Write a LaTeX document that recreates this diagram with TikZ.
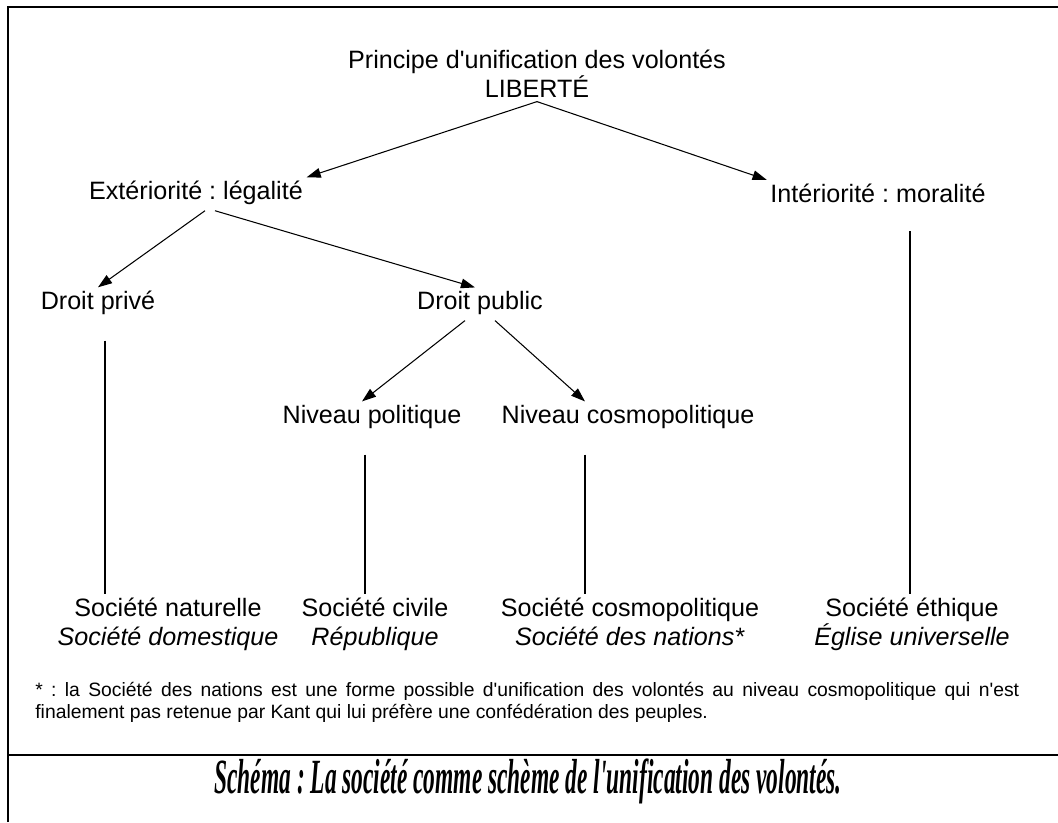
\documentclass[tikz,border=0pt]{standalone}
\usepackage{fontspec}
\usepackage{graphicx}
\setmainfont{Liberation Sans}[Ligatures=TeXOff]
\newfontfamily\captionfont{Liberation Serif}[Ligatures=TeXOff]
\frenchspacing
\usetikzlibrary{arrows.meta,calc}

\begin{document}
\begin{tikzpicture}[x=0.02cm,y=-0.02cm]
        \useasboundingbox (0,0) rectangle (1058,822);
        % frame
        \draw[line width=1.1pt] (8,822) -- (8,7) -- (1058,7);
        \draw[line width=1.1pt] (8,755) -- (1058,755);
        \begin{scope}[every node/.style={font=\fontsize{14.3}{16.5}\selectfont,align=center,inner sep=2pt}]
          \node (unif) at (537,74) {Principe d'unification des volontés\\LIBERTÉ};
          \node (ext) at (196,193) {Extériorité : légalité};
          \node (int) at (878,193) {Intériorité : moralité};
          \node (prive) at (98,303) {Droit privé};
          \node (public) at (480,303) {Droit public};
          \node (pol) at (372,417) {Niveau politique};
          \node (cos) at (628,417) {Niveau cosmopolitique};
        \end{scope}
        \begin{scope}[every node/.style={font=\fontsize{14.3}{16.5}\selectfont,align=center,inner sep=2pt,anchor=north}]
          \node (nat) at (168,594) {Société naturelle\\\textit{Société domestique}};
          \node (civ) at (375,594) {Société civile\\\textit{République}};
          \node (cosm) at (630,594) {Société cosmopolitique\\\textit{Société des nations*}};
          \node (eth) at (912,594) {Société éthique\\\textit{Église universelle}};
        \end{scope}
        \begin{scope}[every edge/.style={draw=black,line width=0.6pt,-{Triangle[length=8pt,width=5.5pt]}}]
          \path (unif.south) edge (ext.north east);
          \path (unif.south) edge (int.north west);
          \path ($(ext.south)+(9,2)$) edge (prive.north);
          \path ($(ext.south)+(19,2)$) edge ($(public.north)+(-5,0)$);
          \path ($(public.south)+(-15,2)$) edge ($(pol.north)+(-10,0)$);
          \path ($(public.south)+(15,2)$) edge ($(cos.north)+(-43,0)$);
        \end{scope}
        % vertical links
        \coordinate (vprive) at ($(prive.south)+(7,22)$);
        \coordinate (vpol) at ($(pol.south)+(-7,22)$);
        \coordinate (vcos) at ($(cos.south)+(-43,22)$);
        \coordinate (vint) at ($(int.south)+(32,25)$);
        \begin{scope}[every path/.style={draw=black,line width=0.6pt}]
          \draw (vprive) -- (vprive |- nat.north);
          \draw (vpol) -- (vpol |- civ.north);
          \draw (vcos) -- (vcos |- cosm.north);
          \draw (vint) -- (vint |- eth.north);
        \end{scope}
        \node[anchor=north west,inner sep=0pt,text width=560pt,align=justify,font=\fontsize{11}{12.5}\selectfont] (note) at (35,682)
          {\hyphenpenalty=10000 * : la Société des nations est une forme possible d'unification des volontés au niveau cosmopolitique qui n'est\linebreak finalement pas retenue par Kant qui lui préfère une confédération des peuples.};
        \node (caption) at (528,781) {\resizebox{357pt}{\height}{\captionfont\fontsize{28}{32}\selectfont\bfseries\itshape Schéma : La société comme schème de l'unification des volontés.}};
      \end{tikzpicture}
\end{document}
